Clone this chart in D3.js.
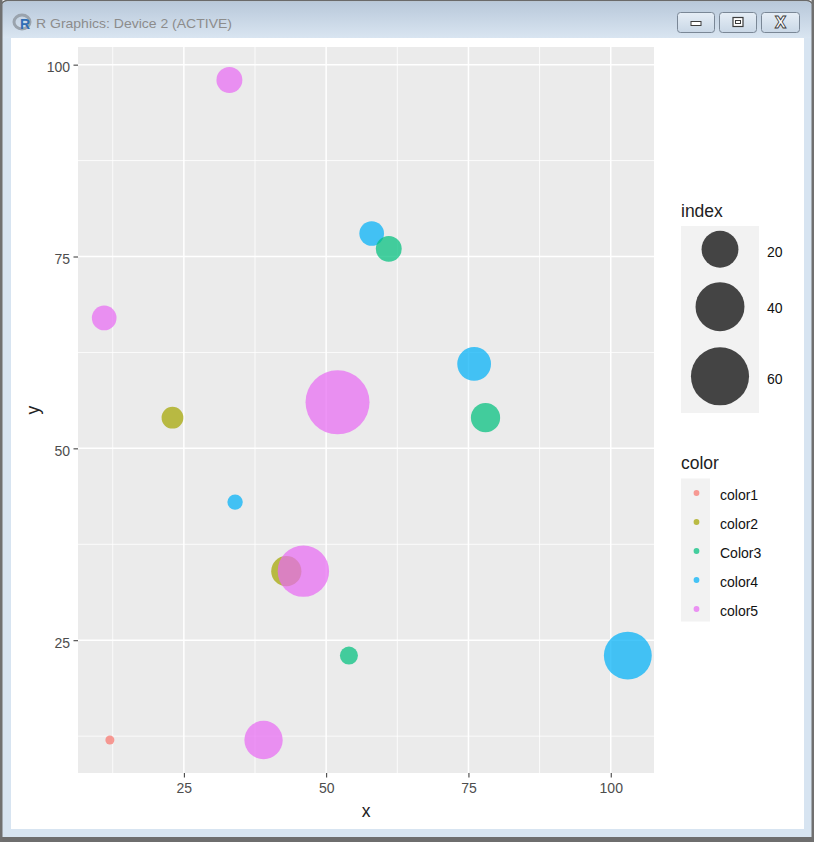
<!DOCTYPE html>
<html><head><meta charset="utf-8">
<script src="https://cdn.jsdelivr.net/npm/d3@7"></script>
<style>body{margin:0;background:#fff;overflow:hidden}</style>
</head><body>
<script>
// ---- data ----
const categories = ["color1", "color2", "Color3", "color4", "color5"];
const pointColor = ["color1","color2","color2","Color3","color4","Color3","Color3","color4","color4","color4","color5","color5","color5","color5","color5"];
const pointX     = [12, 23, 43, 54, 58, 61, 78, 34, 76, 103, 11, 33, 39, 46, 52];
const pointY     = [12, 54, 34, 23, 78, 76, 54, 43, 61, 23, 67, 98, 12, 34, 56];
const pointIndex = [1, 5, 12, 3, 7, 8, 11, 2, 16, 38, 7, 8, 22, 45, 75];
const xTicks = [25, 50, 75, 100];
const yTicks = [25, 50, 75, 100];
const sizeBreaks = [20, 40, 60];
const palette = ["#F8766D", "#A3A500", "#00BF7D", "#00B0F6", "#E76BF3"];

const W = 814, H = 842;
const svg = d3.select("body").append("svg").attr("width", W).attr("height", H);
const defs = svg.append("defs");
const tg = defs.append("linearGradient").attr("id","tbar").attr("x1",0).attr("y1",0).attr("x2",0).attr("y2",1);
tg.append("stop").attr("offset","0%").attr("stop-color","#B8C8DA");
tg.append("stop").attr("offset","100%").attr("stop-color","#D9E5F1");
const bg = defs.append("linearGradient").attr("id","btn").attr("x1",0).attr("y1",0).attr("x2",0).attr("y2",1);
bg.append("stop").attr("offset","0%").attr("stop-color","#E6EEF6");
bg.append("stop").attr("offset","100%").attr("stop-color","#C9D7E6");

// ---- window chrome ----
svg.append("rect").attr("x",0.5).attr("y",0.5).attr("width",W-1).attr("height",H+10).attr("rx",7)
  .attr("fill","#D7E4F1").attr("stroke","#6A6A6A").attr("stroke-width",1.5);
svg.append("path").attr("d",`M1.5,38 L1.5,8 Q1.5,1.5 8,1.5 L${W-8},1.5 Q${W-1.5},1.5 ${W-1.5},8 L${W-1.5},38 Z`)
  .attr("fill","url(#tbar)");
svg.append("rect").attr("x",0).attr("y",837).attr("width",W).attr("height",5).attr("fill","#6E6E6E");
svg.append("rect").attr("x",0).attr("y",0).attr("width",2.5).attr("height",H).attr("fill","#707070");
svg.append("rect").attr("x",W-2.5).attr("y",0).attr("width",2.5).attr("height",H).attr("fill","#707070");
// icon
svg.append("ellipse").attr("cx",22).attr("cy",22).attr("rx",8).attr("ry",7).attr("fill","none")
  .attr("stroke","#9AA3AD").attr("stroke-width",3);
svg.append("text").attr("x",25).attr("y",29).attr("text-anchor","middle").attr("font-family","Liberation Sans, Arial")
  .attr("font-weight","bold").attr("font-size",14).attr("fill","#2F6DB5").text("R");
svg.append("text").attr("x",36).attr("y",28).attr("font-family","Liberation Sans, Arial").attr("font-size",13.5)
  .attr("fill","#8C8C8C").attr("textLength",196).attr("lengthAdjust","spacingAndGlyphs").text("R Graphics: Device 2 (ACTIVE)");
const btns = [[677,715],[719,757],[761,800]];
btns.forEach(([a,b],i)=>{
  svg.append("rect").attr("x",a+0.5).attr("y",12.5).attr("width",b-a-1).attr("height",20).attr("rx",3)
    .attr("fill","url(#btn)").attr("stroke","#7A8796");
  const cx=(a+b)/2, cy=22.5;
  if(i===0){ svg.append("rect").attr("x",cx-5).attr("y",cy-1).attr("width",10).attr("height",4).attr("fill","#fff").attr("stroke","#3C3C3C").attr("stroke-width",1); }
  if(i===1){ svg.append("rect").attr("x",cx-5).attr("y",cy-5).attr("width",10).attr("height",9).attr("fill","#fff").attr("stroke","#3C3C3C").attr("stroke-width",1.2);
             svg.append("rect").attr("x",cx-2.5).attr("y",cy-2).attr("width",5).attr("height",3).attr("fill","none").attr("stroke","#3C3C3C").attr("stroke-width",1); }
  if(i===2){ svg.append("text").attr("x",cx).attr("y",cy+5.5).attr("text-anchor","middle").attr("font-family","DejaVu Sans")
              .attr("font-weight","bold").attr("font-size",15).attr("fill","#fff").attr("stroke","#3C3C3C").attr("stroke-width",0.9).text("X"); }
});
// client area
svg.append("rect").attr("x",11).attr("y",38).attr("width",793).attr("height",791).attr("fill","#fff");

// ---- plot ----
const P = {l:78, r:654, t:47, b:773};
const ext = (arr)=>{const [a,b]=d3.extent(arr); const d=(b-a)*0.05; return [a-d,b+d];};
const x = d3.scaleLinear().domain(ext(pointX)).range([P.l,P.r]);
const y = d3.scaleLinear().domain(ext(pointY)).range([P.b,P.t]);
const resc = d3.scaleLinear().domain(d3.extent(pointIndex)).range([0,1]);
const rLin = d3.scaleLinear().domain([0,1]).range([4.5,32]);
const rad = v => rLin(Math.sqrt(Math.max(0,resc(v))));
const col = d3.scaleOrdinal().domain(categories).range(palette);
const FONT = "Liberation Sans, Arial, sans-serif";
const LAB = 14, TIT = 17.5;

svg.append("rect").attr("x",P.l).attr("y",P.t).attr("width",P.r-P.l).attr("height",P.b-P.t).attr("fill","#EBEBEB");
const g = svg.append("g");
const minorX = xTicks.map(t=>t-12.5).filter(t=>x(t)>P.l);
const minorY = yTicks.map(t=>t-12.5).filter(t=>y(t)<P.b);
g.selectAll(".mx").data(minorX).join("line").attr("x1",d=>x(d)).attr("x2",d=>x(d)).attr("y1",P.t).attr("y2",P.b).attr("stroke","#fff").attr("stroke-width",0.8);
g.selectAll(".my").data(minorY).join("line").attr("y1",d=>y(d)).attr("y2",d=>y(d)).attr("x1",P.l).attr("x2",P.r).attr("stroke","#fff").attr("stroke-width",0.8);
g.selectAll(".Mx").data(xTicks).join("line").attr("x1",d=>x(d)).attr("x2",d=>x(d)).attr("y1",P.t).attr("y2",P.b).attr("stroke","#fff").attr("stroke-width",1.5);
g.selectAll(".My").data(yTicks).join("line").attr("y1",d=>y(d)).attr("y2",d=>y(d)).attr("x1",P.l).attr("x2",P.r).attr("stroke","#fff").attr("stroke-width",1.5);

// points
const idx = d3.range(pointX.length);
svg.append("g").selectAll("circle").data(idx).join("circle")
  .attr("cx",i=>x(pointX[i])).attr("cy",i=>y(pointY[i])).attr("r",i=>rad(pointIndex[i]))
  .attr("fill",i=>col(pointColor[i])).attr("fill-opacity",0.72);

// axes
const xa = svg.append("g").attr("transform",`translate(0,${P.b})`)
  .call(d3.axisBottom(x).tickValues(xTicks).tickSize(4.5).tickPadding(6).tickFormat(d3.format("d")));
const ya = svg.append("g").attr("transform",`translate(${P.l},0)`)
  .call(d3.axisLeft(y).tickValues(yTicks).tickSize(4.5).tickPadding(3.5).tickFormat(d3.format("d")));
[xa,ya].forEach(a=>{
  a.select(".domain").remove();
  a.selectAll("line").attr("stroke","#333").attr("stroke-width",1);
  a.selectAll("text").attr("font-family",FONT).attr("font-size",LAB).attr("fill","#4D4D4D");
});
ya.selectAll("text").attr("dy","0.5em");
svg.append("text").attr("x",(P.l+P.r)/2).attr("y",816.5).attr("text-anchor","middle").attr("font-family",FONT).attr("font-size",TIT).attr("fill","#222").text("x");
svg.append("text").attr("transform",`translate(38.5,${(P.t+P.b)/2}) rotate(-90)`).attr("text-anchor","middle").attr("font-family",FONT).attr("font-size",TIT).attr("fill","#222").text("y");

// ---- size legend ----
svg.append("text").attr("x",681).attr("y",216.5).attr("font-family",FONT).attr("font-size",TIT).attr("fill","#222").text("index");
svg.append("rect").attr("x",681).attr("y",226).attr("width",78).attr("height",187).attr("fill","#F2F2F2");
const sizeCy = [249.3, 306.7, 376.3];
const sizeLy = [251.8, 308.2, 378.5];
sizeBreaks.forEach((v,i)=>{
  svg.append("circle").attr("cx",720).attr("cy",sizeCy[i]).attr("r",rad(v)).attr("fill","#000").attr("fill-opacity",0.72);
  svg.append("text").attr("x",767).attr("y",sizeLy[i]+5).attr("font-family",FONT).attr("font-size",LAB).attr("fill","#111").text(v);
});

// ---- color legend ----
svg.append("text").attr("x",681).attr("y",469).attr("font-family",FONT).attr("font-size",TIT).attr("fill","#222").text("color");
svg.append("rect").attr("x",681).attr("y",478.5).attr("width",29).attr("height",143).attr("fill","#F2F2F2");
categories.forEach((c,i)=>{
  const cy = 493 + i*29;
  svg.append("circle").attr("cx",696.5).attr("cy",cy).attr("r",2.9).attr("fill",col(c)).attr("fill-opacity",0.72);
  svg.append("text").attr("x",720).attr("y",cy+6.5).attr("font-family",FONT).attr("font-size",LAB).attr("fill","#111").text(c);
});
</script>
</body></html>
